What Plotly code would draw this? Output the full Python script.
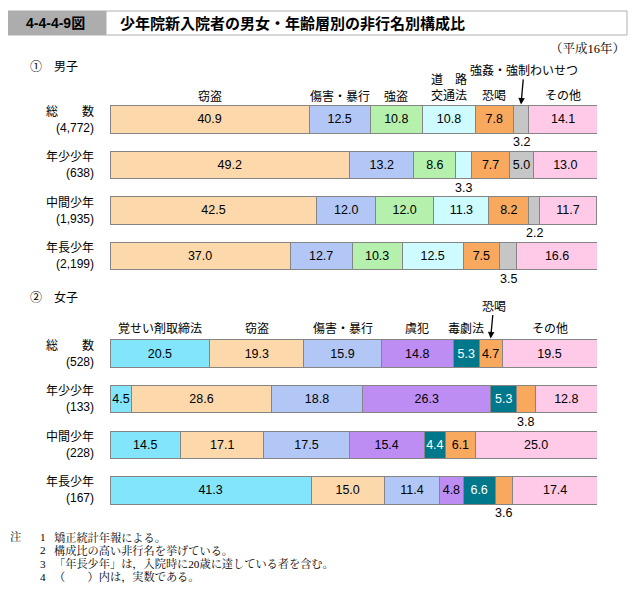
import plotly.graph_objects as go

W, H = 637, 590
OFF = 8  # page body margin of the browser

# ---------------- data ----------------
rows = ["総数", "年少少年", "中間少年", "年長少年"]
row_titles = ["総　　数", "年少少年", "中間少年", "年長少年"]

counts_m = ["4,772", "638", "1,935", "2,199"]
cats_m = ["窃盗", "傷害・暴行", "強盗", "道路交通法", "恐喝", "強姦・強制わいせつ", "その他"]
theft_m = [40.9, 49.2, 42.5, 37.0]
assault_m = [12.5, 13.2, 12.0, 12.7]
robbery_m = [10.8, 8.6, 12.0, 10.3]
traffic_m = [10.8, 3.3, 11.3, 12.5]
extortion_m = [7.8, 7.7, 8.2, 7.5]
sexual_m = [3.2, 5.0, 2.2, 3.5]
other_m = [14.1, 13.0, 11.7, 16.6]

counts_f = ["528", "133", "228", "167"]
cats_f = ["覚せい剤取締法", "窃盗", "傷害・暴行", "虞犯", "毒劇法", "恐喝", "その他"]
stim_f = [20.5, 4.5, 14.5, 41.3]
theft_f = [19.3, 28.6, 17.1, 15.0]
assault_f = [15.9, 18.8, 17.5, 11.4]
gohan_f = [14.8, 26.3, 15.4, 4.8]
poison_f = [5.3, 5.3, 4.4, 6.6]
extortion_f = [4.7, 3.8, 6.1, 3.6]
other_f = [19.5, 12.8, 25.0, 17.4]

# labels drawn below the bar (segment too narrow)
outside_m = {("道路交通法", 1), ("強姦・強制わいせつ", 0), ("強姦・強制わいせつ", 2), ("強姦・強制わいせつ", 3)}
outside_f = {("恐喝", 1), ("恐喝", 3)}

notes = [
    ("1", "矯正統計年報による。"),
    ("2", "構成比の高い非行名を挙げている。"),
    ("3", "「年長少年」は，入院時に20歳に達している者を含む。"),
    ("4", "（　　）内は，実数である。"),
]

# ---------------- style ----------------
colors = {
    "窃盗": "#FDD8AB",
    "傷害・暴行": "#B3C7F7",
    "強盗": "#B5F1AD",
    "道路交通法": "#CDFBFF",
    "恐喝": "#F8A95E",
    "強姦・強制わいせつ": "#C6C6C6",
    "その他": "#FFCAE7",
    "覚せい剤取締法": "#82E5FC",
    "虞犯": "#BD8DF4",
    "毒劇法": "#00788B",
}
LAT = "Liberation Sans, Arial, Noto Sans CJK JP"
JP = "Liberation Sans, Noto Sans CJK JP"
SERIF = "Liberation Serif, Noto Serif CJK JP, Noto Sans CJK JP"

def px_x(p):
    return (p - OFF) / W

def px_y(p):
    return 1 - (p - OFF) / H

fig = go.Figure()
annotations = []

def txt(x, y, text, size=12, family=JP, xanchor="center", **kw):
    d = dict(x=x, y=y, text=text, showarrow=False, xanchor=xanchor, yanchor="middle",
             font=dict(family=family, size=size, color="black"))
    d.update(kw)
    return d

def add_section(cats, series, counts, outside, xa, ya, header_shift, arrow_cat, arrow_text_shift):
    for cat, vals in zip(cats, series):
        texts = ["" if (cat, i) in outside else f"{v:.1f}" for i, v in enumerate(vals)]
        txtcol = "white" if cat == "毒劇法" else "black"
        fig.add_trace(go.Bar(
            x=vals, y=rows, orientation="h", name=cat,
            xaxis=xa, yaxis=ya,
            marker=dict(color=colors[cat], line=dict(color="#858585", width=1)),
            text=texts, textposition="inside", insidetextanchor="middle",
            textangle=0, constraintext="none",
            insidetextfont=dict(family=LAT, size=12.5, color=txtcol),
            hoverinfo="skip", showlegend=False,
        ))
    yref = "y" if ya == "y" else "y2"
    xref = "x" if xa == "x" else "x2"
    n = len(rows)
    starts = [[0.0] * n for _ in cats]
    for i in range(n):
        acc = 0.0
        for k, vals in enumerate(series):
            starts[k][i] = acc
            acc += vals[i]
    # headers above first row
    for k, cat in enumerate(cats):
        cx = starts[k][0] + series[k][0] / 2
        if cat == arrow_cat:
            annotations.append(dict(
                x=cx, y=rows[0], xref=xref, yref=yref, yshift=15,
                text=cat, showarrow=True, ax=3, ay=arrow_text_shift,
                arrowhead=2, arrowsize=1, arrowwidth=1.3, arrowcolor="black",
                font=dict(family=JP, size=12, color="black")))
        elif cat == "道路交通法":
            annotations.append(txt(cx, rows[0], "道　路<br>交通法", xref=xref, yref=yref, yshift=32))
        else:
            annotations.append(txt(cx, rows[0], cat, xref=xref, yref=yref, yshift=header_shift))
    # outside labels below bar
    for k, cat in enumerate(cats):
        for i in range(n):
            if (cat, i) in outside:
                cx = starts[k][i] + series[k][i] / 2
                annotations.append(txt(cx, rows[i], f"{series[k][i]:.1f}", size=12.5, family=LAT,
                                       xref=xref, yref=yref, yshift=-23))
    # row labels
    for i in range(n):
        annotations.append(txt(px_x(96), rows[i], f"{row_titles[i]}<br>({counts[i]})",
                               xanchor="right", align="right", xref="paper", yref=yref))

add_section(cats_m, [theft_m, assault_m, robbery_m, traffic_m, extortion_m, sexual_m, other_m],
            counts_m, outside_m, "x", "y", 23, "強姦・強制わいせつ", -34)
add_section(cats_f, [stim_f, theft_f, assault_f, gohan_f, poison_f, extortion_f, other_f],
            counts_f, outside_f, "x2", "y2", 25, "恐喝", -32)

# titles and texts
annotations += [
    txt(px_x(56), px_y(23), "<b>4-4-4-9図</b>", size=14, xref="paper", yref="paper"),
    txt(px_x(118), px_y(23), "<b>少年院新入院者の男女・年齢層別の非行名別構成比</b>", size=15,
        xanchor="left", xref="paper", yref="paper"),
    txt(px_x(627), px_y(48), "（平成16年）", size=12.5, family=SERIF, xanchor="right",
        xref="paper", yref="paper"),
    txt(px_x(28), px_y(67), "①　男子", xanchor="left", xref="paper", yref="paper"),
    txt(px_x(28), px_y(298), "②　女子", xanchor="left", xref="paper", yref="paper"),
    txt(px_x(8), px_y(537), "注", size=11.2, family=SERIF, xanchor="left", xref="paper", yref="paper"),
]
for j, (num, line) in enumerate(notes):
    yy = 537 + j * 13.3
    annotations.append(txt(px_x(38), px_y(yy), num, size=11.2, family=SERIF, xanchor="left",
                           xref="paper", yref="paper"))
    annotations.append(txt(px_x(52), px_y(yy), line, size=11.2, family=SERIF, xanchor="left",
                           xref="paper", yref="paper"))

shapes = [
    dict(type="rect", xref="paper", yref="paper", x0=px_x(106), x1=px_x(627), y0=px_y(35), y1=px_y(11),
         line=dict(color="#B0B0B0", width=1), fillcolor="white", layer="below"),
    dict(type="rect", xref="paper", yref="paper", x0=px_x(8), x1=px_x(106), y0=px_y(35.5), y1=px_y(10.5),
         line=dict(width=0), fillcolor="#ADADAD", layer="below"),
]

xd = [px_x(110), px_x(597)]
male_dom = [px_y(278.75), px_y(96.65)]
female_dom = [px_y(513.3), px_y(330.7)]
axis_common = dict(range=[0, 100], showgrid=False, zeroline=False, showticklabels=False,
                   showline=False, ticks="", fixedrange=True)
yaxis_common = dict(showgrid=False, zeroline=False, showticklabels=False, showline=False,
                    ticks="", autorange=False, range=[3.5, -0.5], type="category",
                    categoryorder="array", categoryarray=rows, fixedrange=True)

fig.update_layout(
    width=W, height=H,
    margin=dict(l=0, r=0, t=0, b=0),
    paper_bgcolor="white", plot_bgcolor="white",
    barmode="stack", bargap=0.396,
    uniformtext=dict(minsize=12, mode="show"),
    xaxis=dict(domain=xd, anchor="y", **axis_common),
    xaxis2=dict(domain=xd, anchor="y2", **axis_common),
    yaxis=dict(domain=male_dom, anchor="x", **yaxis_common),
    yaxis2=dict(domain=female_dom, anchor="x2", **yaxis_common),
    annotations=annotations,
    shapes=shapes,
)

fig.write_html("out.html", config={"displayModeBar": False})
